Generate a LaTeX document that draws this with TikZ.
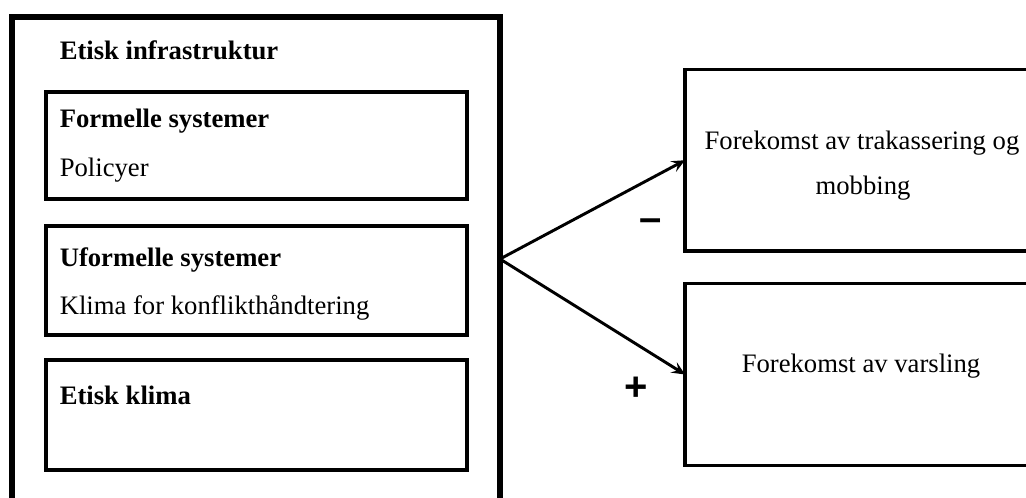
\documentclass[tikz,border=0pt]{standalone}
\usepackage{fontspec}
\setmainfont{Liberation Serif}
\newfontfamily\signfont{Liberation Sans}
\usetikzlibrary{arrows.meta}

\begin{document}
\begin{tikzpicture}[
  x=0.75pt, y=-0.75pt,
  box/.style={draw, rectangle, inner sep=0pt, outer sep=0pt},
  outerframe/.style={box, line width=4.5pt},
  innerframe/.style={box, line width=3pt},
  effectbox/.style={box, line width=2.8pt},
  label/.style={inner sep=0pt, anchor=base west, font=\fontsize{20}{24}\selectfont},
  headlabel/.style={label, font=\fontsize{20}{24}\selectfont\bfseries},
  effectlabel/.style={inner sep=0pt, anchor=base, font=\fontsize{20}{24}\selectfont},
  sign/.style={inner sep=0pt, anchor=base, font=\signfont\bfseries\fontsize{30}{30}\selectfont},
  link/.style={line width=2.2pt, -{Stealth[length=10pt, width=9pt, inset=4pt]}}
]
\useasboundingbox (0,0) rectangle (1026,498);
\clip (0,0) rectangle (1026,498);

% ethical infrastructure frame and its three parts
\node[outerframe, minimum width=366pt, minimum height=363pt] (infra) at (256,259) {};
\node[innerframe, minimum width=316.1pt, minimum height=80.6pt] (formal) at (256.25,145.25) {};
\node[innerframe, minimum width=316.1pt, minimum height=81.75pt] (informal) at (256.25,280.5) {};
\node[innerframe, minimum width=316.1pt, minimum height=82.5pt] (climate) at (256.25,415) {};

\node[headlabel] (infratitle) at (59.5,60) {Etisk infrastruktur};
\node[headlabel] (formaltitle) at (59.5,128) {Formelle systemer};
\node[label] (formaltext) at (59.5,177) {Policyer};
\node[headlabel] (informaltitle) at (59.5,267) {Uformelle systemer};
\node[label] (informaltext) at (59.5,315) {Klima for konflikthåndtering};
\node[headlabel] (climatetitle) at (59.5,405) {Etisk klima};

% outcome boxes
\node[effectbox, minimum width=265.5pt, minimum height=136.1pt] (harass) at (862,160.25) {};
\node[effectbox, minimum width=265.5pt, minimum height=136.5pt] (whistle) at (862,374.5) {};

\node[effectlabel] (harassa) at (862,150) {Forekomst av trakassering og};
\node[effectlabel] (harassb) at (863,195) {mobbing};
\node[effectlabel] (whistlea) at (861,373) {Forekomst av varsling};

% effects
\draw[link] (infra.east) -- (harass.west);
\draw[link] (infra.east) -- (whistle.west);

\node[sign] (minus) at (651,232) {–};
\node[sign] (plus) at (636,401) {+};
\end{tikzpicture}
\end{document}
